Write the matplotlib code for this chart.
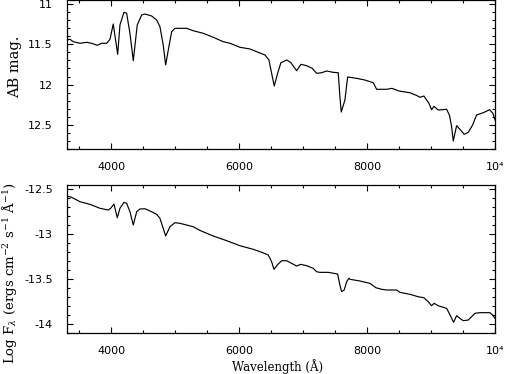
import numpy as np
import matplotlib
matplotlib.use('Agg')
import matplotlib.pyplot as plt
from matplotlib.ticker import MultipleLocator, FuncFormatter

plt.rcParams['mathtext.fontset'] = 'dejavuserif'

# AB magnitude spectrum (top panel)
wave_top = [3300, 3352, 3403, 3508, 3613, 3691, 3778, 3847, 3925, 3977,
            4028, 4097, 4133, 4195, 4237, 4289, 4341, 4403, 4472, 4523,
            4628, 4706, 4758, 4809, 4847, 4888, 4941, 4992, 5175, 5278,
            5434, 5591, 5747, 5852, 6008, 6164, 6294, 6398, 6461, 6503,
            6544, 6597, 6648, 6738, 6800, 6894, 6961, 7050, 7138, 7206,
            7284, 7363, 7466, 7544, 7570, 7591, 7648, 7691, 7831, 7961,
            8091, 8144, 8300, 8383, 8492, 8664, 8773, 8820, 8883, 8961,
            9003, 9039, 9106, 9238, 9284, 9316, 9341, 9394, 9456, 9513,
            9575, 9644, 9706, 9809, 9909, 9961, 10000]
ab_mag = [11.444, 11.435, 11.465, 11.485, 11.473, 11.485, 11.510, 11.485, 11.485, 11.435,
          11.244, 11.623, 11.256, 11.098, 11.110, 11.360, 11.703, 11.256, 11.131, 11.119,
          11.144, 11.194, 11.278, 11.506, 11.756, 11.569, 11.340, 11.298, 11.298, 11.328,
          11.360, 11.410, 11.465, 11.485, 11.535, 11.556, 11.598, 11.631, 11.694, 11.860,
          12.019, 11.860, 11.728, 11.694, 11.723, 11.828, 11.748, 11.765, 11.798, 11.860,
          11.853, 11.831, 11.848, 11.853, 12.153, 12.344, 12.194, 11.906, 11.923, 11.944,
          11.978, 12.060, 12.060, 12.048, 12.081, 12.103, 12.138, 12.160, 12.144, 12.235,
          12.315, 12.273, 12.319, 12.310, 12.388, 12.528, 12.706, 12.515, 12.569, 12.623,
          12.598, 12.506, 12.381, 12.353, 12.315, 12.360, 12.456]

# log flux spectrum (bottom panel)
wave_bot = [3297, 3378, 3508, 3664, 3820, 3950, 3988, 4039, 4091, 4133,
            4195, 4237, 4289, 4341, 4394, 4445, 4523, 4628, 4706, 4758,
            4809, 4847, 4914, 4992, 5070, 5278, 5383, 5591, 5800, 6008,
            6216, 6347, 6450, 6503, 6539, 6591, 6659, 6738, 6816, 6894,
            6956, 7050, 7153, 7206, 7258, 7388, 7534, 7570, 7597, 7637,
            7675, 7711, 7727, 7883, 8039, 8133, 8222, 8300, 8456, 8508,
            8664, 8794, 8883, 8950, 9003, 9044, 9106, 9238, 9278, 9316,
            9347, 9394, 9445, 9497, 9575, 9680, 9758, 9914, 9956, 9992]
log_flux = [-12.578, -12.592, -12.641, -12.670, -12.714, -12.733, -12.714, -12.667, -12.819, -12.714,
            -12.648, -12.659, -12.752, -12.900, -12.752, -12.722, -12.719, -12.752, -12.781, -12.826,
            -12.937, -13.022, -12.919, -12.874, -12.881, -12.919, -12.960, -13.022, -13.074, -13.130,
            -13.170, -13.203, -13.233, -13.308, -13.392, -13.344, -13.297, -13.297, -13.326, -13.356,
            -13.337, -13.352, -13.381, -13.419, -13.426, -13.426, -13.444, -13.567, -13.641, -13.622,
            -13.530, -13.492, -13.503, -13.522, -13.548, -13.597, -13.614, -13.622, -13.622, -13.648,
            -13.670, -13.697, -13.708, -13.752, -13.797, -13.770, -13.797, -13.826, -13.881, -13.937,
            -13.981, -13.907, -13.937, -13.963, -13.956, -13.881, -13.874, -13.874, -13.900, -13.937]

def xfmt(v, pos):
    if abs(v - 10000) < 1:
        return '10\u2074'
    return '%d' % v

def yfmt(v, pos):
    return '%g' % v

def style(ax):
    ax.set_xlim(3300, 10000)
    ax.xaxis.set_major_locator(MultipleLocator(2000))
    ax.xaxis.set_minor_locator(MultipleLocator(500))
    ax.yaxis.set_major_locator(MultipleLocator(0.5))
    ax.yaxis.set_minor_locator(MultipleLocator(0.1))
    ax.xaxis.set_major_formatter(FuncFormatter(xfmt))
    ax.yaxis.set_major_formatter(FuncFormatter(yfmt))
    ax.tick_params(which='both', direction='in', top=True, right=True, width=0.8, labelsize=8)
    ax.tick_params(which='major', length=4.5)
    ax.tick_params(which='minor', length=2.5)
    ax.tick_params(axis='y', pad=10)
    ax.tick_params(axis='x', pad=9)
    for s in ax.spines.values():
        s.set_linewidth(0.9)

fig = plt.figure(figsize=(5.05, 3.74), dpi=100)

ax1 = fig.add_axes([0.132, 0.6016, 0.849, 0.3984])
ax1.plot(wave_top, ab_mag, color='k', lw=0.85)
style(ax1)
ax1.set_ylim(12.806, 10.944)

ax2 = fig.add_axes([0.132, 0.1096, 0.849, 0.397])
ax2.plot(wave_bot, log_flux, color='k', lw=0.85)
style(ax2)
ax2.set_ylim(-14.1, -12.45)

fig.text(15/505, 1-67/374, 'AB mag.', rotation=90, ha='center', va='center',
         family='DejaVu Serif', fontsize=10.5)
fig.text(10/505, 1-273/374, r'Log F$_\lambda$ (ergs cm$^{-2}$ s$^{-1}$ Å$^{-1}$)',
         rotation=90, ha='center', va='center', family='DejaVu Serif', fontsize=9.5)
fig.text(278/505, 1-367/374, 'Wavelength (Å)', ha='center', va='center',
         family='DejaVu Serif', fontsize=8.5)

fig.savefig('out.png', dpi=100)
